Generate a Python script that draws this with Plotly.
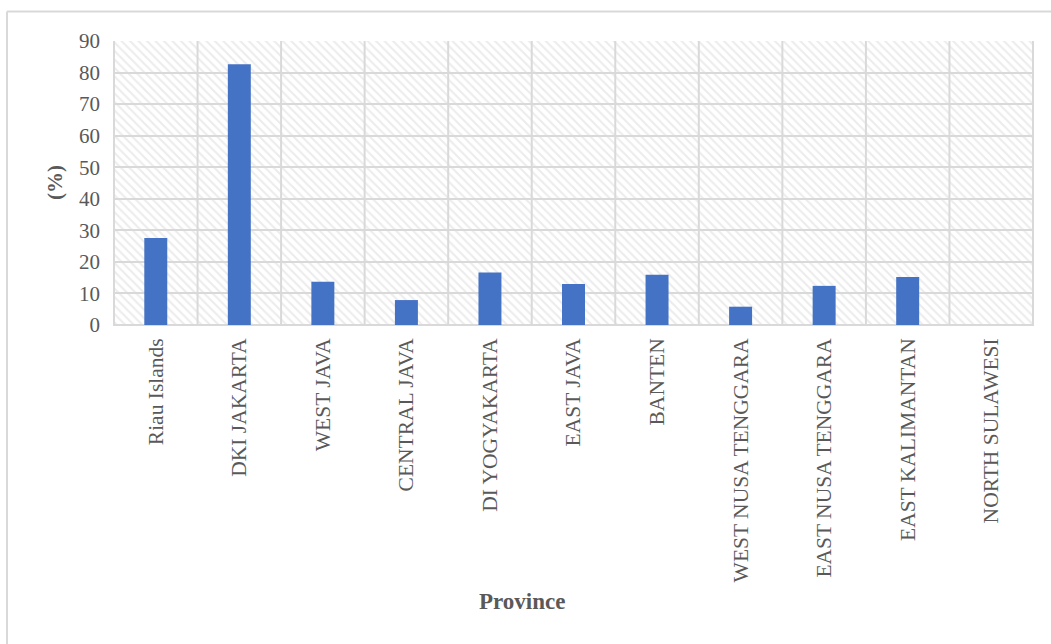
import plotly.graph_objects as go

provinces = ["Riau Islands", "DKI JAKARTA", "WEST JAVA", "CENTRAL JAVA", "DI YOGYAKARTA",
             "EAST JAVA", "BANTEN", "WEST NUSA TENGGARA", "EAST NUSA TENGGARA",
             "EAST KALIMANTAN", "NORTH SULAWESI"]
values = [27.6, 82.6, 13.7, 7.9, 16.6, 13.0, 15.9, 5.8, 12.4, 15.2, 0]
y_ticks = [0, 10, 20, 30, 40, 50, 60, 70, 80, 90]
y_max = 90

FONT = "Liberation Serif, Times New Roman, serif"
GRAY = "#595959"
GRID = "#d9d9d9"

fig = go.Figure()

# hatched plot-area background (full-height, full-width bars behind data)
fig.add_trace(go.Bar(
    x=provinces, y=[y_max] * len(provinces), width=1,
    marker=dict(color="rgba(0,0,0,0)", line_width=0,
                pattern=dict(shape="\\", size=6, solidity=0.35, fgcolor=GRID,
                             bgcolor="rgba(0,0,0,0)")),
    hoverinfo="skip", showlegend=False))

fig.add_trace(go.Bar(x=provinces, y=values, marker_color="#4472C4",
                     marker_line_width=0, width=0.275, showlegend=False))

fig.update_layout(
    width=1051, height=644, barmode="overlay",
    margin=dict(l=113, r=17, t=41, b=319),
    paper_bgcolor="white", plot_bgcolor="white",
    font=dict(family=FONT, color=GRAY, size=21),
    xaxis=dict(type="category", tickangle=-90, showgrid=False,
               tickfont=dict(size=21.5, family=FONT, color=GRAY),
               ticklabelstandoff=8, zeroline=False, showline=False),
    yaxis=dict(range=[0, y_max], tickvals=y_ticks, showgrid=True, gridcolor=GRID,
               gridwidth=2, zeroline=False, showline=False,
               tickfont=dict(size=21, family=FONT, color=GRAY),
               ticklabelstandoff=12),
)

# vertical gridlines at category boundaries and plot border
n = len(provinces)
for i in range(n + 1):
    fig.add_shape(type="line", xref="x", yref="paper", x0=i - 0.5, x1=i - 0.5,
                  y0=0, y1=1, line=dict(color=GRID, width=2), layer="below")
fig.add_shape(type="line", xref="paper", yref="paper", x0=0, x1=1, y0=0, y1=0,
              line=dict(color=GRID, width=2), layer="below")

# outer chart border (left and top visible)
fig.add_shape(type="line", xref="paper", yref="paper", x0=-0.1151, x1=1.02,
              y0=1.104, y1=1.104, line=dict(color=GRID, width=2))
fig.add_shape(type="line", xref="paper", yref="paper", x0=-0.1151, x1=-0.1151,
              y0=1.104, y1=-1.13, line=dict(color=GRID, width=2))

fig.add_annotation(text="<b>(%)</b>", xref="paper", yref="paper",
                   x=(55 - 113) / 921, y=0.5, xanchor="center", yanchor="middle",
                   textangle=-90, showarrow=False,
                   font=dict(size=21, family=FONT, color=GRAY))
fig.add_annotation(text="<b>Province</b>", xref="paper", yref="paper",
                   x=(522 - 113) / 921, y=(325 - 601) / 284,
                   xanchor="center", yanchor="middle", showarrow=False,
                   font=dict(size=23, family=FONT, color=GRAY))

fig.write_html("out.html")
